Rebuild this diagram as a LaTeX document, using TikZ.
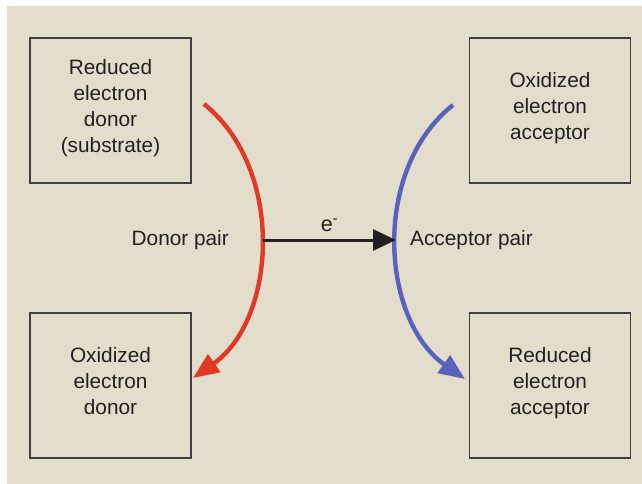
\documentclass[tikz,border=0pt]{standalone}
\usepackage{fontspec}
\setmainfont{Liberation Sans}
\usetikzlibrary{positioning, arrows.meta}
\definecolor{paper}{RGB}{227,221,204}
\definecolor{donorred}{RGB}{226,56,40}
\definecolor{acceptorblue}{RGB}{90,98,190}
\definecolor{ink}{RGB}{35,31,32}

\begin{document}
\begin{tikzpicture}[x=1pt, y=-1pt,
    box/.style={draw=black!75, line width=1.3pt, minimum width=161pt,
      minimum height=145pt, inner sep=0pt, align=center, text depth=9pt,
      text=ink, font=\fontsize{20.8}{26}\selectfont},
    lbl/.style={inner sep=0pt, text=ink, font=\fontsize{20.8}{24}\selectfont},
    pair/.style={line width=4.4pt, -{Triangle[length=26pt, width=21pt]}},
    eflow/.style={line width=3pt, -{Triangle[length=23pt, width=21pt]}}]
  \useasboundingbox (0,0) rectangle (642,484);
  \fill[paper] (7,6) rectangle (642,484);

  \node[box] (rdonor)    at (110.5,110.5) {Reduced\\electron\\donor\\(substrate)};
  \node[box] (odonor)    at (110.5,385.5) {Oxidized\\electron\\donor};
  \node[box] (oacceptor) at (550,110.5)   {Oxidized\\electron\\acceptor};
  \node[box] (racceptor) at (550,385.5)   {Reduced\\electron\\acceptor};

  \coordinate (rtop) at (204,104);
  \coordinate (rbot) at (193,378);
  \coordinate (rmid) at (263,240);
  \coordinate (btop) at (453,105);
  \coordinate (bbot) at (465,379);
  \coordinate (bmid) at (396,240);

  \draw[pair, donorred]     (rtop) .. controls (286,170) and (276,320) .. (rbot);
  \draw[pair, acceptorblue] (btop) .. controls (371,170) and (381,320) .. (bbot);
  \draw[eflow, ink] (rmid) -- node[lbl, above=7pt, font=\fontsize{21.5}{24}\selectfont] {e\textsuperscript{-}} (bmid);

  \node[lbl, left=34pt of rmid]  (dpair) {Donor pair};
  \node[lbl, right=14pt of bmid] (apair) {Acceptor pair};
\end{tikzpicture}
\end{document}
